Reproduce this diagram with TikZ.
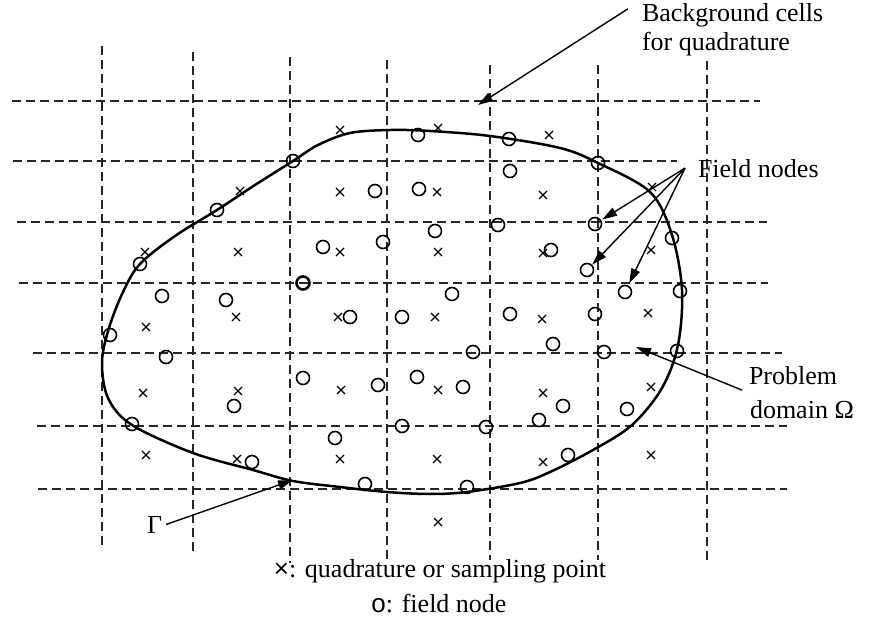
\documentclass[tikz,border=0pt]{standalone}
\usepackage{fontspec}
\setmainfont{Liberation Serif}
\newfontfamily\legsans{Liberation Sans}
\usetikzlibrary{arrows.meta,shapes.misc}
\begin{document}
\begin{tikzpicture}[x=1pt,y=-1pt,
  gridline/.style={dash pattern=on 9pt off 5pt, line width=1.3pt, black!85},
  boundary/.style={line width=2.5pt, line join=round},
  fnode/.style={circle, draw, line width=1.6pt, minimum size=13pt, inner sep=0pt, outer sep=0pt},
  boldnode/.style={fnode, line width=2.6pt},
  qpoint/.style={cross out, draw, line width=1.2pt, minimum size=8pt, inner sep=0pt, outer sep=0pt},
  lbl/.style={font=\fontsize{26}{30}\selectfont, inner sep=0pt, outer sep=0pt},
  pointer/.style={line width=1.4pt, -{Triangle[length=15pt,width=9pt]}},
]
\useasboundingbox (0,0) rectangle (871,623);

% background cells
\foreach \y/\a/\b in {101/12/760, 161/13/677, 222/17/767, 283/19/768, 353/33/782, 426/37/787, 489/38/787}
  \draw[gridline] (\a,\y) -- (\b,\y);
\foreach \x/\a/\b in {102/46/550, 193/52/555, 290/57/563, 387/60/560, 490/65/560, 598/65/560, 707/61/563}
  \draw[gridline] (\x,\a) -- (\x,\b);

% boundary Gamma
\draw[boundary] plot[smooth cycle, tension=0.55] coordinates {
  (293,161) (318,145) (350,133) (390,130) (430,131) (490,136) (560,148) (598,163) (650,192)
  (672,235) (682,290) (678,345) (662,388) (632,425) (593,450) (550,472)
  (520,483) (467,492) (430,494) (387,492) (340,487) (293,481) (253,470)
  (193,453) (132,425) (108,398) (102,362) (109,328) (123,292) (140,264)
  (175,236) (217,210) (255,185)};

% field nodes
\foreach \x/\y [count=\i] in {293/161, 418/135, 509/139, 598/163, 217/210, 140/264,
  375/191, 419/189, 510/171, 595/224, 672/238, 435/231, 498/225, 323/247, 383/242,
  551/250, 587/270, 162/296, 226/300, 452/294, 625/292, 680/291, 110/335, 350/317,
  402/317, 510/314, 595/314, 166/357, 473/352, 553/344, 604/352, 677/351, 303/378,
  378/385, 417/377, 463/387, 234/406, 563/406, 627/409, 132/424, 402/426, 486/427,
  539/420, 335/438, 568/455, 252/462, 365/484, 467/487}
  \node[fnode] (f\i) at (\x,\y) {};
\node[boldnode] (fb) at (303,283) {};

% quadrature points
\foreach \x/\y [count=\i] in {340/130, 438/128, 549/135, 240/191, 340/192, 437/192,
  543/195, 652/187, 145/252, 238/252, 340/252, 438/252, 543/253, 651/250, 146/327,
  236/317, 338/317, 435/317, 542/319, 648/313, 143/393, 238/391, 341/390, 438/390,
  543/393, 651/387, 146/455, 237/459, 340/459, 437/459, 543/462, 651/455, 438/522}
  \node[qpoint] (q\i) at (\x,\y) {};

% labels
\node[lbl, anchor=base west] (bg1) at (642,22) {Background cells};
\node[lbl, anchor=base west] (bg2) at (642,51) {for quadrature};
\node[lbl, anchor=base west] (fl) at (698,178) {Field nodes};
\node[lbl, anchor=base west] (pd1) at (749,384) {Problem};
\node[lbl, anchor=base west] (pd2) at (750,418) {domain Ω};
\node[lbl, anchor=base west] (gam) at (147,533) {Γ};
\node[lbl, anchor=base] (lg1) at (440,577) {{\legsans ×}: quadrature or sampling point};
\node[lbl, anchor=base] (lg2) at (439,612) {{\legsans o}: field node};

% arrows
\coordinate (bgsrc) at ([xshift=-14pt,yshift=7pt]bg1.west);
\coordinate (bgtip) at (478,105);
\draw[pointer] (bgsrc) -- (bgtip);

\coordinate (flsrc) at ([xshift=-13pt,yshift=1pt]fl.west);
\draw[pointer, shorten >=2pt] (flsrc) -- (f10);
\draw[pointer, shorten >=1pt] (flsrc) -- (f17);
\draw[pointer, shorten >=3pt] (flsrc) -- (f21);

\coordinate (pdsrc) at ([xshift=-7pt,yshift=-15pt]pd1.west);
\coordinate (pdtip) at (636,347);
\draw[pointer] (pdsrc) -- (pdtip);

\coordinate (gsrc) at ([xshift=4pt]gam.east);
\coordinate (gtip) at (293,480);
\draw[pointer] (gsrc) -- (gtip);
\end{tikzpicture}
\end{document}
